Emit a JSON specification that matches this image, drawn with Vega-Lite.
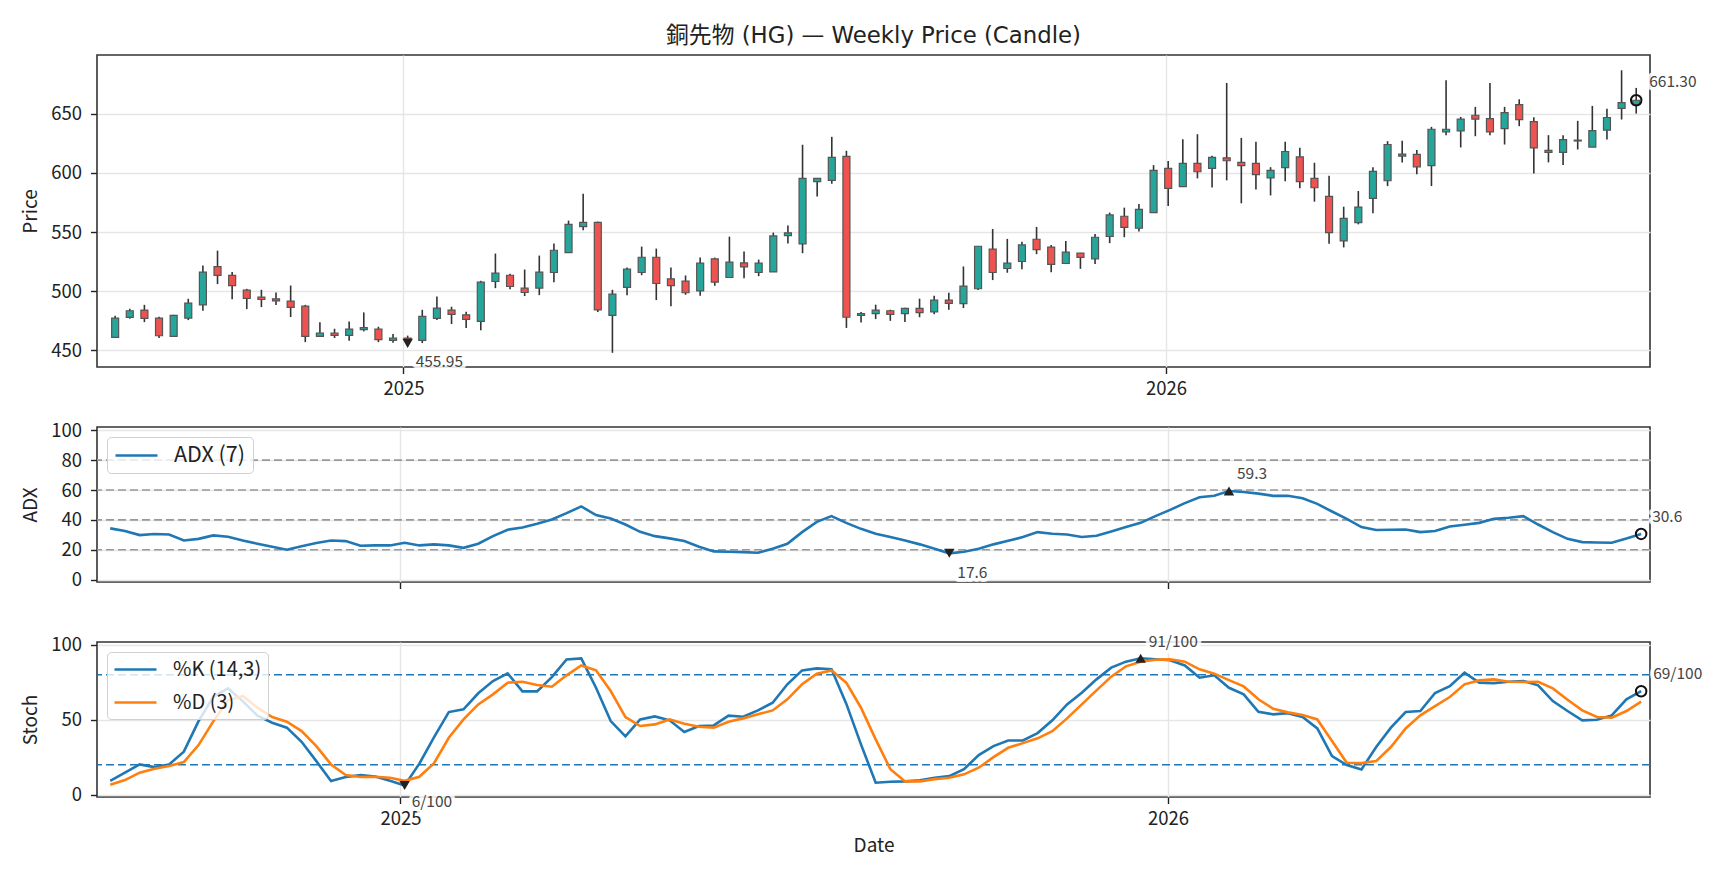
{
  "$schema": "https://vega.github.io/schema/vega-lite/v6.json",
  "background": "white",
  "padding": {"left": 20, "top": 24, "right": 10, "bottom": 10},
  "config": {
    "font": "Noto Sans CJK JP",
    "view": {"stroke": "#333", "strokeWidth": 1.6},
    "axis": {
      "domain": false,
      "labelFontSize": 18.5,
      "labelColor": "#222",
      "labelOverlap": false,
      "titleFontSize": 19,
      "titleFontWeight": "normal",
      "titleColor": "#222",
      "tickColor": "#222",
      "tickSize": 6.5,
      "tickWidth": 1.4,
      "gridColor": "#e6e6e6",
      "gridWidth": 1.4
    },
    "axisY": {"labelPadding": 9, "titlePadding": 10, "tickCount": 12},
    "axisX": {"labelPadding": 6, "titlePadding": 8},
    "legend": {
      "title": null,
      "orient": "top-left",
      "offset": 10,
      "strokeColor": "#d0d0d0",
      "fillColor": "rgba(255,255,255,0.8)",
      "padding": 7,
      "cornerRadius": 4,
      "symbolType": "M-2.1,0H2.1",
      "symbolSize": 400,
      "symbolOffset": 11,
      "symbolStrokeWidth": 2.6,
      "labelFontSize": 21.5,
      "labelColor": "#222",
      "labelOffset": 26,
      "rowPadding": 8
    }
  },
  "data": {
    "values": [
      {"date":"2024-08-16","o":461.0,"h":479.3,"l":460.5,"c":477.3,"adx":34.3,"k":9.3,"d":6.7},
      {"date":"2024-08-23","o":477.9,"h":485.2,"l":476.8,"c":483.5,"adx":32.5,"k":14.7,"d":9.8},
      {"date":"2024-08-30","o":484.1,"h":488.5,"l":473.9,"c":477.0,"adx":29.8,"k":20.2,"d":14.7},
      {"date":"2024-09-06","o":477.3,"h":478.4,"l":460.5,"c":462.4,"adx":30.5,"k":18.4,"d":17.3},
      {"date":"2024-09-13","o":461.9,"h":480.1,"l":461.6,"c":479.6,"adx":30.2,"k":20.2,"d":19.1},
      {"date":"2024-09-20","o":477.3,"h":493.6,"l":475.6,"c":490.0,"adx":26.2,"k":28.7,"d":21.8},
      {"date":"2024-09-27","o":488.5,"h":521.7,"l":483.5,"c":516.1,"adx":27.3,"k":49.1,"d":33.1},
      {"date":"2024-10-04","o":520.8,"h":534.3,"l":506.0,"c":513.3,"adx":29.6,"k":65.3,"d":48.9},
      {"date":"2024-10-11","o":513.3,"h":516.3,"l":493.3,"c":504.8,"adx":28.7,"k":70.9,"d":62.9},
      {"date":"2024-10-18","o":500.9,"h":502.0,"l":484.9,"c":493.9,"adx":26.2,"k":62.4,"d":65.8},
      {"date":"2024-10-25","o":495.0,"h":501.2,"l":486.6,"c":493.0,"adx":24.0,"k":52.7,"d":58.0},
      {"date":"2024-11-01","o":493.6,"h":498.9,"l":488.3,"c":491.9,"adx":22.0,"k":48.0,"d":51.8},
      {"date":"2024-11-08","o":491.6,"h":504.8,"l":478.2,"c":486.3,"adx":20.0,"k":44.7,"d":48.7},
      {"date":"2024-11-15","o":487.4,"h":488.5,"l":457.0,"c":461.9,"adx":22.4,"k":35.3,"d":42.4},
      {"date":"2024-11-22","o":461.9,"h":473.7,"l":461.3,"c":464.7,"adx":24.5,"k":22.4,"d":32.4},
      {"date":"2024-11-29","o":464.7,"h":468.3,"l":460.5,"c":462.7,"adx":26.2,"k":9.1,"d":20.2},
      {"date":"2024-12-06","o":462.7,"h":474.5,"l":458.2,"c":468.0,"adx":25.8,"k":11.8,"d":13.1},
      {"date":"2024-12-13","o":467.5,"h":482.1,"l":466.1,"c":469.2,"adx":22.7,"k":13.1,"d":11.8},
      {"date":"2024-12-20","o":468.0,"h":470.0,"l":457.0,"c":459.1,"adx":22.9,"k":12.2,"d":12.0},
      {"date":"2024-12-27","o":458.5,"h":463.8,"l":456.5,"c":460.5,"adx":22.9,"k":9.3,"d":11.3},
      {"date":"2025-01-03","o":460.5,"h":462.5,"l":455.95,"c":458.8,"adx":24.7,"k":6.2,"d":9.3},
      {"date":"2025-01-10","o":458.5,"h":484.3,"l":456.2,"c":478.7,"adx":22.9,"k":20.7,"d":12.0},
      {"date":"2025-01-17","o":477.0,"h":495.6,"l":475.6,"c":485.7,"adx":23.6,"k":38.4,"d":21.1},
      {"date":"2025-01-24","o":484.1,"h":486.9,"l":472.3,"c":480.4,"adx":22.9,"k":55.1,"d":38.0},
      {"date":"2025-01-31","o":480.1,"h":482.6,"l":468.9,"c":476.2,"adx":21.3,"k":56.9,"d":50.2},
      {"date":"2025-02-07","o":474.5,"h":508.8,"l":467.0,"c":507.6,"adx":24.0,"k":67.6,"d":60.2},
      {"date":"2025-02-14","o":508.2,"h":531.8,"l":502.6,"c":515.2,"adx":29.1,"k":75.8,"d":66.9},
      {"date":"2025-02-21","o":513.5,"h":514.7,"l":501.7,"c":504.0,"adx":33.4,"k":80.9,"d":74.7},
      {"date":"2025-02-28","o":502.6,"h":518.3,"l":495.9,"c":498.9,"adx":34.9,"k":68.9,"d":75.3},
      {"date":"2025-03-07","o":502.6,"h":530.1,"l":496.7,"c":516.1,"adx":37.4,"k":68.9,"d":73.1},
      {"date":"2025-03-14","o":515.8,"h":540.2,"l":507.6,"c":534.6,"adx":40.3,"k":78.4,"d":72.0},
      {"date":"2025-03-21","o":532.6,"h":559.6,"l":532.4,"c":556.5,"adx":44.5,"k":90.2,"d":79.6},
      {"date":"2025-03-28","o":554.5,"h":582.3,"l":551.5,"c":558.2,"adx":49.0,"k":90.9,"d":86.2},
      {"date":"2025-04-04","o":558.2,"h":558.8,"l":482.4,"c":484.3,"adx":43.2,"k":71.3,"d":82.9},
      {"date":"2025-04-11","o":479.6,"h":501.2,"l":448.0,"c":497.5,"adx":40.9,"k":49.1,"d":69.1},
      {"date":"2025-04-18","o":503.2,"h":520.0,"l":496.7,"c":518.6,"adx":36.9,"k":38.9,"d":51.8},
      {"date":"2025-04-25","o":515.8,"h":537.7,"l":513.5,"c":528.7,"adx":32.0,"k":50.2,"d":45.8},
      {"date":"2025-05-02","o":528.7,"h":536.0,"l":492.5,"c":506.5,"adx":29.1,"k":52.2,"d":46.9},
      {"date":"2025-05-09","o":510.5,"h":520.0,"l":487.4,"c":504.8,"adx":27.6,"k":49.6,"d":50.2},
      {"date":"2025-05-16","o":508.5,"h":513.3,"l":497.0,"c":498.7,"adx":25.8,"k":41.8,"d":47.3},
      {"date":"2025-05-23","o":500.3,"h":528.4,"l":496.1,"c":523.7,"adx":22.0,"k":45.8,"d":45.3},
      {"date":"2025-05-30","o":527.3,"h":528.4,"l":504.6,"c":507.6,"adx":18.9,"k":46.2,"d":44.7},
      {"date":"2025-06-06","o":511.6,"h":546.1,"l":511.6,"c":524.5,"adx":18.7,"k":52.7,"d":48.7},
      {"date":"2025-06-13","o":523.9,"h":533.5,"l":511.0,"c":520.6,"adx":18.4,"k":52.0,"d":50.9},
      {"date":"2025-06-20","o":515.8,"h":526.7,"l":512.7,"c":523.7,"adx":18.0,"k":56.2,"d":53.6},
      {"date":"2025-06-27","o":516.3,"h":549.5,"l":516.3,"c":546.7,"adx":20.7,"k":61.3,"d":56.2},
      {"date":"2025-07-04","o":547.0,"h":555.4,"l":540.4,"c":549.3,"adx":24.0,"k":73.6,"d":63.6},
      {"date":"2025-07-11","o":540.0,"h":623.7,"l":532.1,"c":595.3,"adx":31.8,"k":82.9,"d":73.6},
      {"date":"2025-07-18","o":592.5,"h":595.3,"l":580.1,"c":595.3,"adx":38.7,"k":84.2,"d":80.7},
      {"date":"2025-07-25","o":593.6,"h":630.4,"l":590.8,"c":613.0,"adx":42.5,"k":83.6,"d":82.9},
      {"date":"2025-08-01","o":613.8,"h":618.6,"l":469.0,"c":478.0,"adx":38.0,"k":60.7,"d":74.7},
      {"date":"2025-08-08","o":479.5,"h":482.5,"l":473.5,"c":481.0,"adx":34.0,"k":33.6,"d":58.0},
      {"date":"2025-08-15","o":481.0,"h":488.6,"l":476.5,"c":484.0,"adx":30.7,"k":8.0,"d":36.9},
      {"date":"2025-08-22","o":483.5,"h":484.4,"l":475.0,"c":480.5,"adx":28.6,"k":8.7,"d":17.0},
      {"date":"2025-08-29","o":481.0,"h":486.0,"l":474.0,"c":485.5,"adx":26.2,"k":8.9,"d":8.9},
      {"date":"2025-09-05","o":485.5,"h":493.7,"l":478.0,"c":482.0,"adx":23.6,"k":9.6,"d":8.9},
      {"date":"2025-09-12","o":482.5,"h":496.2,"l":480.5,"c":492.5,"adx":20.7,"k":11.3,"d":10.4},
      {"date":"2025-09-19","o":492.5,"h":498.7,"l":484.4,"c":489.7,"adx":17.6,"k":12.4,"d":11.3},
      {"date":"2025-09-26","o":489.5,"h":520.9,"l":485.8,"c":504.3,"adx":18.7,"k":17.1,"d":13.6},
      {"date":"2025-10-03","o":502.1,"h":538.0,"l":501.0,"c":538.0,"adx":20.7,"k":26.4,"d":18.0},
      {"date":"2025-10-10","o":535.5,"h":552.6,"l":509.4,"c":515.8,"adx":23.6,"k":32.4,"d":25.1},
      {"date":"2025-10-17","o":519.2,"h":544.2,"l":515.6,"c":523.7,"adx":26.0,"k":36.2,"d":31.3},
      {"date":"2025-10-24","o":525.1,"h":541.7,"l":518.6,"c":539.1,"adx":28.5,"k":36.2,"d":34.4},
      {"date":"2025-10-31","o":543.9,"h":554.3,"l":531.3,"c":535.2,"adx":31.8,"k":41.1,"d":37.6},
      {"date":"2025-11-07","o":537.2,"h":539.1,"l":516.1,"c":522.6,"adx":30.7,"k":49.6,"d":42.4},
      {"date":"2025-11-14","o":523.4,"h":542.5,"l":522.9,"c":533.0,"adx":30.2,"k":60.2,"d":50.9},
      {"date":"2025-11-21","o":532.1,"h":532.1,"l":518.9,"c":528.5,"adx":28.5,"k":68.0,"d":60.2},
      {"date":"2025-11-28","o":527.4,"h":548.4,"l":522.9,"c":545.6,"adx":29.4,"k":76.9,"d":69.6},
      {"date":"2025-12-05","o":546.2,"h":566.4,"l":540.6,"c":564.4,"adx":32.3,"k":84.7,"d":78.7},
      {"date":"2025-12-12","o":563.3,"h":570.6,"l":545.6,"c":554.0,"adx":35.2,"k":88.7,"d":85.6},
      {"date":"2025-12-19","o":553.2,"h":573.7,"l":550.4,"c":569.2,"adx":38.0,"k":91.0,"d":88.7},
      {"date":"2025-12-26","o":566.4,"h":606.5,"l":566.4,"c":602.0,"adx":42.5,"k":90.3,"d":90.0},
      {"date":"2026-01-02","o":603.7,"h":609.9,"l":572.0,"c":586.9,"adx":46.7,"k":89.6,"d":90.2},
      {"date":"2026-01-09","o":588.3,"h":628.4,"l":588.3,"c":607.9,"adx":51.2,"k":86.2,"d":88.7},
      {"date":"2026-01-16","o":607.9,"h":632.6,"l":595.3,"c":600.9,"adx":55.2,"k":78.0,"d":83.6},
      {"date":"2026-01-23","o":603.7,"h":614.4,"l":587.7,"c":613.0,"adx":56.1,"k":79.6,"d":80.7},
      {"date":"2026-01-30","o":612.7,"h":675.9,"l":593.6,"c":610.2,"adx":59.3,"k":71.3,"d":76.4},
      {"date":"2026-02-06","o":608.8,"h":629.5,"l":574.2,"c":606.0,"adx":58.7,"k":66.9,"d":72.2},
      {"date":"2026-02-13","o":607.9,"h":626.2,"l":586.0,"c":598.4,"adx":57.6,"k":55.3,"d":63.6},
      {"date":"2026-02-20","o":595.8,"h":604.8,"l":580.9,"c":602.0,"adx":56.1,"k":53.6,"d":57.3},
      {"date":"2026-02-27","o":604.3,"h":626.2,"l":592.8,"c":618.0,"adx":56.1,"k":54.4,"d":54.9},
      {"date":"2026-03-06","o":613.5,"h":621.1,"l":586.9,"c":592.5,"adx":54.5,"k":51.8,"d":53.1},
      {"date":"2026-03-13","o":595.3,"h":608.5,"l":575.6,"c":587.4,"adx":50.7,"k":44.2,"d":50.2},
      {"date":"2026-03-20","o":580.1,"h":597.5,"l":540.0,"c":549.5,"adx":45.6,"k":25.8,"d":35.8},
      {"date":"2026-03-27","o":542.5,"h":571.4,"l":537.0,"c":561.6,"adx":40.7,"k":19.8,"d":21.3},
      {"date":"2026-04-03","o":557.9,"h":584.6,"l":556.5,"c":571.1,"adx":35.2,"k":16.9,"d":21.1},
      {"date":"2026-04-10","o":578.4,"h":604.8,"l":565.8,"c":601.2,"adx":33.2,"k":31.8,"d":22.4},
      {"date":"2026-04-17","o":593.3,"h":626.7,"l":588.8,"c":623.9,"adx":33.4,"k":44.7,"d":31.8},
      {"date":"2026-04-24","o":614.1,"h":627.0,"l":608.8,"c":615.8,"adx":33.6,"k":55.1,"d":44.2},
      {"date":"2026-05-01","o":615.5,"h":619.2,"l":598.7,"c":605.1,"adx":31.8,"k":55.8,"d":52.9},
      {"date":"2026-05-08","o":606.0,"h":638.8,"l":588.8,"c":636.8,"adx":32.5,"k":67.8,"d":59.1},
      {"date":"2026-05-15","o":634.6,"h":678.1,"l":631.8,"c":636.8,"adx":35.6,"k":72.4,"d":65.1},
      {"date":"2026-05-22","o":635.4,"h":647.2,"l":621.4,"c":645.3,"adx":36.7,"k":81.3,"d":73.6},
      {"date":"2026-05-29","o":648.6,"h":655.7,"l":630.9,"c":645.3,"adx":38.0,"k":74.7,"d":76.2},
      {"date":"2026-06-05","o":645.8,"h":675.9,"l":631.8,"c":634.6,"adx":40.7,"k":74.4,"d":76.9},
      {"date":"2026-06-12","o":637.4,"h":655.7,"l":623.9,"c":650.9,"adx":41.4,"k":75.3,"d":75.3},
      {"date":"2026-06-19","o":657.6,"h":662.1,"l":639.4,"c":645.0,"adx":42.5,"k":75.8,"d":75.1},
      {"date":"2026-06-26","o":643.3,"h":647.0,"l":599.5,"c":621.1,"adx":36.9,"k":72.9,"d":75.3},
      {"date":"2026-07-03","o":618.9,"h":631.8,"l":608.8,"c":617.2,"adx":31.8,"k":62.4,"d":70.9},
      {"date":"2026-07-10","o":617.2,"h":631.8,"l":606.5,"c":628.1,"adx":27.3,"k":55.8,"d":63.3},
      {"date":"2026-07-17","o":626.9,"h":643.9,"l":619.7,"c":627.6,"adx":25.1,"k":49.6,"d":56.2},
      {"date":"2026-07-24","o":621.7,"h":656.5,"l":621.7,"c":635.7,"adx":24.9,"k":50.0,"d":51.8},
      {"date":"2026-07-31","o":636.0,"h":654.0,"l":628.1,"c":646.7,"adx":24.7,"k":52.9,"d":51.3},
      {"date":"2026-08-07","o":654.5,"h":686.6,"l":645.0,"c":659.3,"adx":27.6,"k":63.6,"d":55.8},
      {"date":"2026-08-14","o":657.5,"h":671.7,"l":650.0,"c":661.3,"adx":30.6,"k":69.0,"d":62.0}
    ],
    "format": {"parse": {"date": "date:'%Y-%m-%d'"}}
  },
  "spacing": 60,
  "bounds": "flush",
  "resolve": {"scale": {"color": "independent"}, "legend": {"color": "independent"}},
  "vconcat": [
    {
      "width": 1553,
      "height": 312,
      "title": {"text": "銅先物 (HG) — Weekly Price (Candle)", "font": "DejaVu Sans, Noto Sans CJK JP", "fontSize": 22.8, "fontWeight": "normal", "color": "#222", "offset": 7, "frame": "group", "anchor": "middle"},
      "layer": [
        {
          "mark": {"type": "rule", "color": "#333", "strokeWidth": 1.6},
          "encoding": {
            "x": {"field": "date", "type": "temporal",
              "scale": {"domain": [{"year": 2024, "month": 8, "date": 9, "hours": 17}, {"year": 2026, "month": 8, "date": 18, "hours": 5}]},
              "axis": {"values": [{"year": 2025, "month": 1, "date": 1}, {"year": 2026, "month": 1, "date": 1}], "format": "%Y", "title": null, "grid": true}},
            "y": {"field": "l", "type": "quantitative", "scale": {"domain": [436, 699.5], "nice": false, "zero": false},
              "axis": {"title": "Price", "values": [450, 500, 550, 600, 650], "grid": true}},
            "y2": {"field": "h"}
          }
        },
        {
          "mark": {"type": "bar", "size": 7, "stroke": "#555", "strokeWidth": 1.2},
          "encoding": {
            "x": {"field": "date", "type": "temporal"},
            "y": {"field": "o", "type": "quantitative"},
            "y2": {"field": "c"},
            "fill": {"condition": {"test": "datum.c >= datum.o", "value": "#26a69a"}, "value": "#ef5350"}
          }
        },
        {
          "data": {"values": [{"date": "2025-01-03", "v": 455.95, "t": "455.95"}], "format": {"parse": {"date": "date:'%Y-%m-%d'"}}},
          "encoding": {"x": {"field": "date", "type": "temporal"}, "y": {"field": "v", "type": "quantitative"}, "text": {"field": "t"}},
          "layer": [
            {"mark": {"type": "point", "shape": "triangle-down", "filled": true, "color": "#222", "size": 110, "opacity": 1}},
            {"mark": {"type": "text", "align": "left", "baseline": "middle", "dx": 8, "dy": 19, "fontSize": 15.5, "fill": "white", "stroke": "white", "strokeWidth": 8, "strokeJoin": "round", "opacity": 0.85}},
            {"mark": {"type": "text", "align": "left", "baseline": "middle", "dx": 8, "dy": 19, "fontSize": 15.5, "color": "#444"}}
          ]
        },
        {
          "data": {"values": [{"date": "2026-08-14", "v": 661.3, "t": "661.30"}], "format": {"parse": {"date": "date:'%Y-%m-%d'"}}},
          "encoding": {"x": {"field": "date", "type": "temporal"}, "y": {"field": "v", "type": "quantitative"}, "text": {"field": "t"}},
          "layer": [
            {"mark": {"type": "point", "shape": "circle", "filled": false, "stroke": "#111", "strokeWidth": 2, "size": 110, "opacity": 1}},
            {"mark": {"type": "text", "align": "left", "baseline": "middle", "dx": 13, "dy": -18, "fontSize": 15.5, "fill": "white", "stroke": "white", "strokeWidth": 8, "strokeJoin": "round", "opacity": 0.85}},
            {"mark": {"type": "text", "align": "left", "baseline": "middle", "dx": 13, "dy": -18, "fontSize": 15.5, "color": "#444"}}
          ]
        }
      ]
    },
    {
      "width": 1553,
      "height": 155,
      "layer": [
        {
          "data": {"values": [{"lvl": 20}, {"lvl": 40}, {"lvl": 60}, {"lvl": 80}]},
          "mark": {"type": "rule", "color": "#999", "strokeDash": [8, 4], "strokeWidth": 1.6},
          "encoding": {"y": {"field": "lvl", "type": "quantitative", "scale": {"domain": [-1.6, 102.2], "nice": false, "zero": false},
            "axis": {"title": "ADX", "values": [0, 20, 40, 60, 80, 100], "tickCount": 12, "grid": true}}}
        },
        {
          "mark": {"type": "line", "strokeWidth": 2.6},
          "encoding": {
            "x": {"field": "date", "type": "temporal",
              "scale": {"domain": [{"year": 2024, "month": 8, "date": 9, "hours": 17}, {"year": 2026, "month": 8, "date": 18, "hours": 5}]},
              "axis": {"values": [{"year": 2025, "month": 1, "date": 1}, {"year": 2026, "month": 1, "date": 1}], "labels": false, "title": null, "grid": true}},
            "y": {"field": "adx", "type": "quantitative", "axis": {"title": "ADX", "values": [0, 20, 40, 60, 80, 100], "tickCount": 12, "grid": true}},
            "color": {"datum": "ADX (7)", "type": "nominal", "scale": {"range": ["#1f77b4"]}}
          }
        },
        {
          "data": {"values": [{"date": "2025-09-19", "v": 17.6, "t": "17.6"}], "format": {"parse": {"date": "date:'%Y-%m-%d'"}}},
          "encoding": {"x": {"field": "date", "type": "temporal"}, "y": {"field": "v", "type": "quantitative"}, "text": {"field": "t"}},
          "layer": [
            {"mark": {"type": "point", "shape": "triangle-down", "filled": true, "color": "#222", "size": 110, "opacity": 1}},
            {"mark": {"type": "text", "align": "left", "baseline": "middle", "dx": 8, "dy": 19.5, "fontSize": 15.5, "fill": "white", "stroke": "white", "strokeWidth": 8, "strokeJoin": "round", "opacity": 0.85}},
            {"mark": {"type": "text", "align": "left", "baseline": "middle", "dx": 8, "dy": 19.5, "fontSize": 15.5, "color": "#444"}}
          ]
        },
        {
          "data": {"values": [{"date": "2026-01-30", "v": 59.3, "t": "59.3"}], "format": {"parse": {"date": "date:'%Y-%m-%d'"}}},
          "encoding": {"x": {"field": "date", "type": "temporal"}, "y": {"field": "v", "type": "quantitative"}, "text": {"field": "t"}},
          "layer": [
            {"mark": {"type": "point", "shape": "triangle-up", "filled": true, "color": "#222", "size": 110, "opacity": 1}},
            {"mark": {"type": "text", "align": "left", "baseline": "middle", "dx": 8, "dy": -17, "fontSize": 15.5, "fill": "white", "stroke": "white", "strokeWidth": 8, "strokeJoin": "round", "opacity": 0.85}},
            {"mark": {"type": "text", "align": "left", "baseline": "middle", "dx": 8, "dy": -17, "fontSize": 15.5, "color": "#444"}}
          ]
        },
        {
          "data": {"values": [{"date": "2026-08-14", "v": 30.6, "t": "30.6"}], "format": {"parse": {"date": "date:'%Y-%m-%d'"}}},
          "encoding": {"x": {"field": "date", "type": "temporal"}, "y": {"field": "v", "type": "quantitative"}, "text": {"field": "t"}},
          "layer": [
            {"mark": {"type": "point", "shape": "circle", "filled": false, "stroke": "#111", "strokeWidth": 2, "size": 110, "opacity": 1}},
            {"mark": {"type": "text", "align": "left", "baseline": "middle", "dx": 11, "dy": -17, "fontSize": 15.5, "fill": "white", "stroke": "white", "strokeWidth": 8, "strokeJoin": "round", "opacity": 0.85}},
            {"mark": {"type": "text", "align": "left", "baseline": "middle", "dx": 11, "dy": -17, "fontSize": 15.5, "color": "#444"}}
          ]
        }
      ]
    },
    {
      "width": 1553,
      "height": 155,
      "layer": [
        {
          "data": {"values": [{"lvl": 20}, {"lvl": 80}]},
          "mark": {"type": "rule", "color": "#1f77b4", "strokeDash": [8, 4], "strokeWidth": 1.6},
          "encoding": {"y": {"field": "lvl", "type": "quantitative", "scale": {"domain": [-1.5, 101.8], "nice": false, "zero": false},
            "axis": {"title": "Stoch", "values": [0, 50, 100], "grid": true}}}
        },
        {
          "mark": {"type": "line", "strokeWidth": 2.6},
          "encoding": {
            "x": {"field": "date", "type": "temporal",
              "scale": {"domain": [{"year": 2024, "month": 8, "date": 9, "hours": 17}, {"year": 2026, "month": 8, "date": 18, "hours": 5}]},
              "axis": {"values": [{"year": 2025, "month": 1, "date": 1}, {"year": 2026, "month": 1, "date": 1}], "format": "%Y", "title": "Date", "grid": true}},
            "y": {"field": "k", "type": "quantitative"},
            "color": {"datum": "%K (14,3)", "type": "nominal", "scale": {"domain": ["%K (14,3)", "%D (3)"], "range": ["#1f77b4", "#ff7f0e"]},
              "legend": {"labelFontSize": 20, "padding": 6, "rowPadding": 11}}
          }
        },
        {
          "mark": {"type": "line", "strokeWidth": 2.6},
          "encoding": {
            "x": {"field": "date", "type": "temporal"},
            "y": {"field": "d", "type": "quantitative"},
            "color": {"datum": "%D (3)", "type": "nominal"}
          }
        },
        {
          "data": {"values": [{"date": "2025-01-03", "v": 6.2, "t": "6/100"}], "format": {"parse": {"date": "date:'%Y-%m-%d'"}}},
          "encoding": {"x": {"field": "date", "type": "temporal"}, "y": {"field": "v", "type": "quantitative"}, "text": {"field": "t"}},
          "layer": [
            {"mark": {"type": "point", "shape": "triangle-down", "filled": true, "color": "#222", "size": 110, "opacity": 1}},
            {"mark": {"type": "text", "align": "left", "baseline": "middle", "dx": 7, "dy": 17, "fontSize": 15.5, "fill": "white", "stroke": "white", "strokeWidth": 8, "strokeJoin": "round", "opacity": 0.85}},
            {"mark": {"type": "text", "align": "left", "baseline": "middle", "dx": 7, "dy": 17, "fontSize": 15.5, "color": "#444"}}
          ]
        },
        {
          "data": {"values": [{"date": "2025-12-19", "v": 91.0, "t": "91/100"}], "format": {"parse": {"date": "date:'%Y-%m-%d'"}}},
          "encoding": {"x": {"field": "date", "type": "temporal"}, "y": {"field": "v", "type": "quantitative"}, "text": {"field": "t"}},
          "layer": [
            {"mark": {"type": "point", "shape": "triangle-up", "filled": true, "color": "#222", "size": 110, "opacity": 1}},
            {"mark": {"type": "text", "align": "left", "baseline": "middle", "dx": 8, "dy": -16, "fontSize": 15.5, "fill": "white", "stroke": "white", "strokeWidth": 8, "strokeJoin": "round", "opacity": 0.85}},
            {"mark": {"type": "text", "align": "left", "baseline": "middle", "dx": 8, "dy": -16, "fontSize": 15.5, "color": "#444"}}
          ]
        },
        {
          "data": {"values": [{"date": "2026-08-14", "v": 69.0, "t": "69/100"}], "format": {"parse": {"date": "date:'%Y-%m-%d'"}}},
          "encoding": {"x": {"field": "date", "type": "temporal"}, "y": {"field": "v", "type": "quantitative"}, "text": {"field": "t"}},
          "layer": [
            {"mark": {"type": "point", "shape": "circle", "filled": false, "stroke": "#111", "strokeWidth": 2, "size": 110, "opacity": 1}},
            {"mark": {"type": "text", "align": "left", "baseline": "middle", "dx": 12, "dy": -17, "fontSize": 15.5, "fill": "white", "stroke": "white", "strokeWidth": 8, "strokeJoin": "round", "opacity": 0.85}},
            {"mark": {"type": "text", "align": "left", "baseline": "middle", "dx": 12, "dy": -17, "fontSize": 15.5, "color": "#444"}}
          ]
        }
      ]
    }
  ]
}
